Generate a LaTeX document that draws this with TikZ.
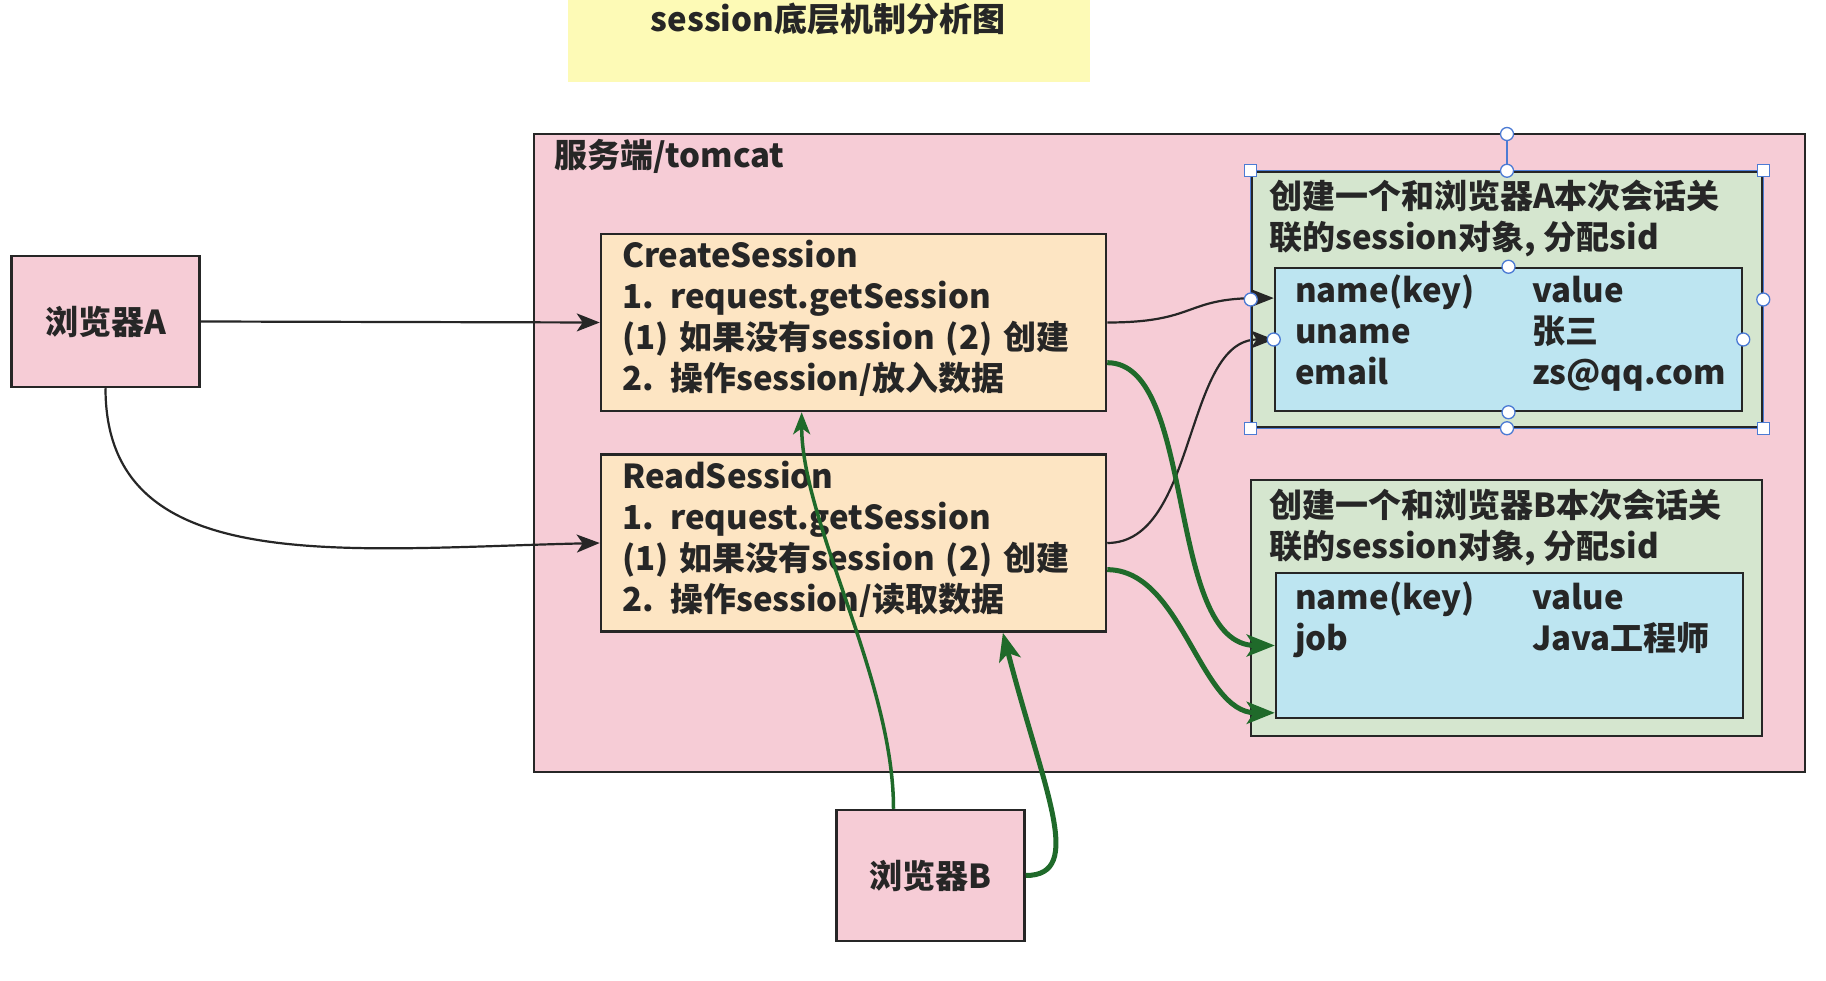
\documentclass[tikz,border=0pt]{standalone}
\usepackage{fontspec}
\setmainfont{Noto Sans CJK SC}
\usetikzlibrary{arrows.meta}
\definecolor{ink}{HTML}{262626}
\definecolor{title-yellow}{HTML}{FDFAB6}
\definecolor{server-pink}{HTML}{F6CCD6}
\definecolor{step-orange}{HTML}{FDE5C3}
\definecolor{store-green}{HTML}{D5E6CF}
\definecolor{map-blue}{HTML}{BDE5F1}
\definecolor{flow-green}{HTML}{1F6A2A}
\definecolor{select-blue}{HTML}{4C7BD4}

\begin{document}
\begin{tikzpicture}[x=1pt, y=-1pt,
    every node/.style={font=\bfseries\fontsize{33}{41}\selectfont, text=ink},
    frame/.style={draw=ink, line width=2.5pt, inner sep=0pt},
    stepbox/.style={frame, fill=step-orange, minimum width=505pt, minimum height=177pt,
      text width=463pt, align=left},
    browser/.style={frame, fill=server-pink, minimum width=188pt, minimum height=131pt},
    plain/.style={inner sep=0pt, align=left, anchor=north west},
    call/.style={draw=ink, line width=2.2pt, -{Stealth[length=23pt, width=18pt, inset=6pt]}},
    store/.style={draw=flow-green, line width=5pt, -{Stealth[length=28pt, width=22pt, inset=7pt]}},
    grip/.style={draw=select-blue, fill=white, line width=1.3pt, circle, minimum size=13pt, inner sep=0pt},
    grip square/.style={draw=select-blue, fill=white, line width=1.3pt, minimum size=12pt, inner sep=0pt}]
  \useasboundingbox[fill=white] (0,0) rectangle (1826,981);

  % title
  \node[fill=title-yellow, minimum width=522pt, minimum height=82pt] (title) at (829,41) {};
  \node (title-text) at (828,19) {session底层机制分析图};

  % server side
  \node[frame, fill=server-pink, minimum width=1271pt, minimum height=638pt] (server) at (1169.5,453) {};
  \node[inner sep=0pt, anchor=west] (server-label) at (554,156) {服务端/tomcat};

  \node[stepbox] (create) at (853.5,322.5)
    {CreateSession\\ 1. request.getSession\\ (1) 如果没有session (2) 创建\\ 2. 操作session/放入数据\par\vspace*{8pt}};
  \node[stepbox] (read) at (853.5,543)
    {ReadSession\\ 1. request.getSession\\ (1) 如果没有session (2) 创建\\ 2. 操作session/读取数据\par\vspace*{8pt}};

  % session objects
  \node[frame, fill=store-green, minimum width=510pt, minimum height=255pt] (sessA) at (1507,299.5) {};
  \node[plain] (sessA-text) at (1269,180) {创建一个和浏览器A本次会话关\\ 联的session对象, 分配sid};
  \node[frame, fill=map-blue, minimum width=467pt, minimum height=143pt] (mapA) at (1508.5,339.5) {};
  \node[plain] (mapA-text) at (1295,274)
    {\begin{tabular}{@{}p{237pt}@{}l@{}}
      name(key) & value\\ uname & 张三\\ email & zs@qq.com
    \end{tabular}};

  \node[frame, fill=store-green, minimum width=511pt, minimum height=256pt] (sessB) at (1506.5,608) {};
  \node[plain] (sessB-text) at (1269,489) {创建一个和浏览器B本次会话关\\ 联的session对象, 分配sid};
  \node[frame, fill=map-blue, minimum width=467pt, minimum height=145pt] (mapB) at (1509.5,645.5) {};
  \node[plain] (mapB-text) at (1295,581)
    {\begin{tabular}{@{}p{237pt}@{}l@{}}
      name(key) & value\\ job & Java工程师
    \end{tabular}};

  % browsers
  \node[browser] (browserA) at (105.5,321.5) {浏览器A};
  \node[browser] (browserB) at (930.5,875.5) {浏览器B};

  % browser A
  \draw[call] (browserA.east) -- (create.west);
  \draw[call] (browserA.south) .. controls +(0,190) and +(-260,6) .. (read.west);
  \draw[call] (create.east) .. controls +(90,0) and +(-90,0) .. (mapA.170);
  \draw[call] (read.east) .. controls +(90,0) and +(-90,0) .. (mapA.west);

  % browser B
  \draw[store] (create.-9) .. controls +(90,0) and +(-110,0) .. (mapB.west);
  \draw[store] (read.-6) .. controls +(75,0) and +(-75,0) .. (mapB.196);
  \draw[store, line width=3.5pt, -{Stealth[length=22pt, width=17pt, inset=6pt]}]
    (browserB.119) .. controls +(0,-130) and +(0,110) .. (create.240);
  \draw[store] (browserB.east) .. controls +(60,0) and +(41,158) .. (read.329.5);

  % selection handles
  \draw[select-blue, line width=1.3pt] (sessA.north west) rectangle (sessA.south east);
  \draw[select-blue, line width=1.3pt] (sessA.north) -- (1507,134);
  \node[grip] (grip-rot) at (1507,134) {};
  \foreach \a/\n in {north/n, south/s, east/e, west/w}
    \node[grip] (grip-\n) at (sessA.\a) {};
  \foreach \a/\n in {north/n, south/s, east/e, west/w}
    \node[grip] (grip-map-\n) at (mapA.\a) {};
  \foreach \a/\n in {north west/nw, north east/ne, south west/sw, south east/se}
    \node[grip square] (grip-\n) at (sessA.\a) {};
\end{tikzpicture}
\end{document}
